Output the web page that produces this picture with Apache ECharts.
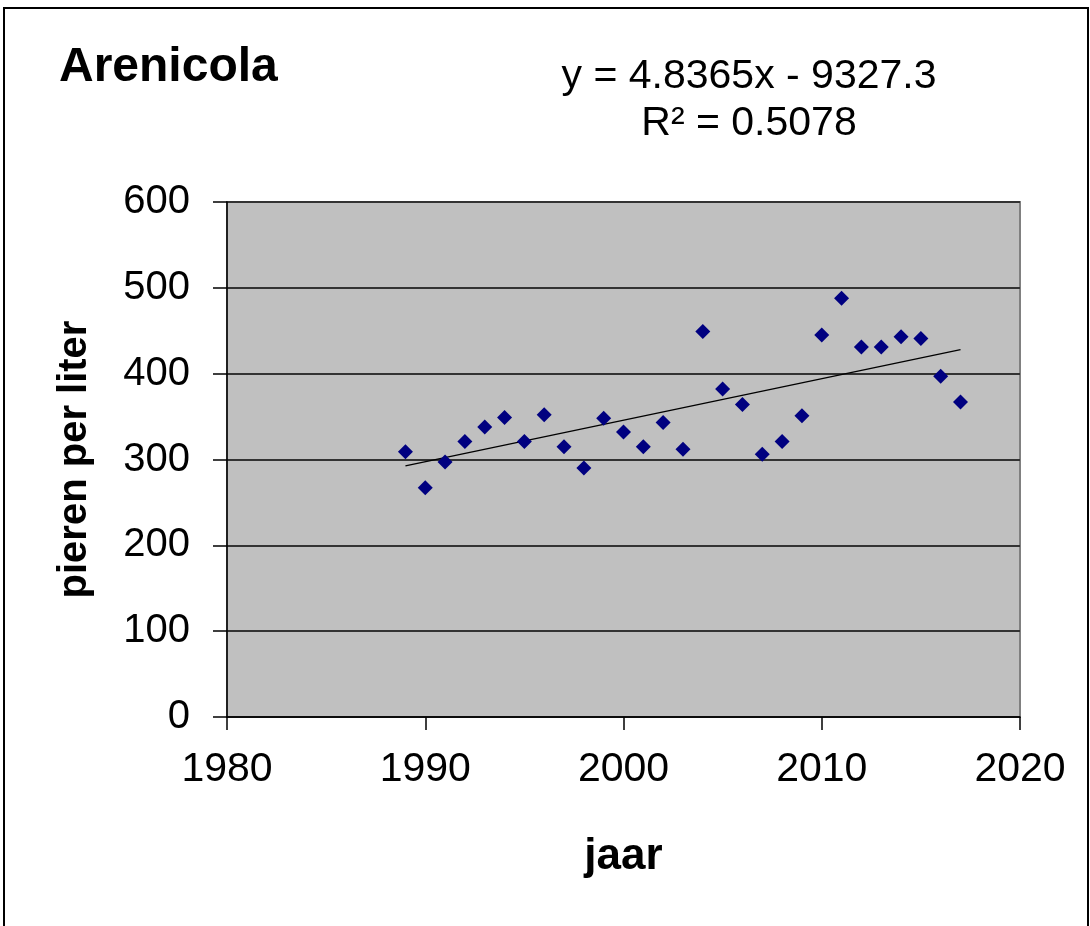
<!DOCTYPE html>
<html>
<head>
<meta charset="utf-8">
<script src="https://cdn.jsdelivr.net/npm/echarts@6/dist/echarts.min.js"></script>
<style>
    html, body { margin: 0; padding: 0; background: #fff; }
    #chart { width: 1090px; height: 926px; }
</style>
</head>
<body>
<div id="chart"></div>
<script>
// data
var years = [1989, 1990, 1991, 1992, 1993, 1994, 1995, 1996, 1997, 1998, 1999, 2000, 2001, 2002, 2003,
             2004, 2005, 2006, 2007, 2008, 2009, 2010, 2011, 2012, 2013, 2014, 2015, 2016, 2017];
var pieren = [309, 267, 297, 321, 338, 349, 321, 352, 315, 290, 348, 332, 315, 343, 312,
              449, 382, 364, 306, 321, 351, 445, 488, 431, 431, 443, 441, 397, 367];
var trendSlope = 4.8365;
var trendIntercept = -9327.3;
var trendYears = [1989, 2017];
var xTicks = [1980, 1990, 2000, 2010, 2020];
var yTicks = [0, 100, 200, 300, 400, 500, 600];

var scatterData = years.map(function (y, i) { return [y, pieren[i]]; });
var trendData = trendYears.map(function (y) { return [y, trendSlope * y + trendIntercept]; });

var myChart = echarts.init(document.getElementById('chart'));
var font = '"Liberation Sans", Arial, sans-serif';

var option = {
    animation: false,
    backgroundColor: '#fff',
    textStyle: { fontFamily: font },
    title: [
        {
            text: 'Arenicola',
            left: 54, top: 39,
            textStyle: { fontFamily: font, fontSize: 48, fontWeight: 'bold', color: '#000' }
        },
        {
            text: 'y = 4.8365x - 9327.3\nR² = 0.5078',
            left: 744, top: 48,
            textAlign: 'center',
            textStyle: { fontFamily: font, fontSize: 41, fontWeight: 'normal', color: '#000', lineHeight: 47, align: 'center' }
        }
    ],
    graphic: [
        {
            type: 'polyline',
            shape: { points: [[4, 926], [4, 8], [1088, 8], [1088, 926]] },
            style: { stroke: '#000', lineWidth: 2, fill: null },
            silent: true
        }
    ],
    grid: {
        left: 227, top: 202, right: 70, bottom: 209,
        show: true,
        backgroundColor: '#c0c0c0',
        borderColor: '#808080',
        borderWidth: 2
    },
    xAxis: {
        type: 'value',
        min: 1980, max: 2020, interval: 10,
        name: 'jaar',
        nameLocation: 'middle',
        nameGap: 118,
        nameTextStyle: { fontFamily: font, fontSize: 44, fontWeight: 'bold', color: '#000' },
        axisLine: { show: true, onZero: false, lineStyle: { color: '#000', width: 1.5 } },
        axisTick: { show: true, inside: false, length: 13, lineStyle: { color: '#000', width: 1.5 } },
        axisLabel: {
            fontFamily: font, fontSize: 41, color: '#000', margin: 32,
            formatter: function (v) { return xTicks.indexOf(v) >= 0 ? String(v) : ''; }
        },
        splitLine: { show: false }
    },
    yAxis: {
        type: 'value',
        min: 0, max: 600, interval: 100,
        name: 'pieren per liter',
        nameLocation: 'middle',
        nameRotate: 90,
        nameGap: 132,
        nameTextStyle: { fontFamily: font, fontSize: 40, fontWeight: 'bold', color: '#000' },
        axisLine: { show: true, lineStyle: { color: '#000', width: 1.5 } },
        axisTick: { show: true, inside: false, length: 14, lineStyle: { color: '#000', width: 1.5 } },
        axisLabel: {
            fontFamily: font, fontSize: 40, color: '#000', margin: 37,
            formatter: function (v) { return yTicks.indexOf(v) >= 0 ? String(v) : ''; }
        },
        splitLine: { show: true, lineStyle: { color: '#333', width: 2 } }
    },
    series: [
        {
            name: 'trend',
            type: 'line',
            data: trendData,
            symbol: 'none',
            lineStyle: { color: '#000', width: 1.3 },
            silent: true,
            z: 2
        },
        {
            name: 'pieren',
            type: 'scatter',
            data: scatterData,
            symbol: 'diamond',
            symbolSize: [15, 15],
            itemStyle: { color: '#000080', opacity: 1 },
            z: 3
        }
    ]
};
myChart.setOption(option);
</script>
</body>
</html>
